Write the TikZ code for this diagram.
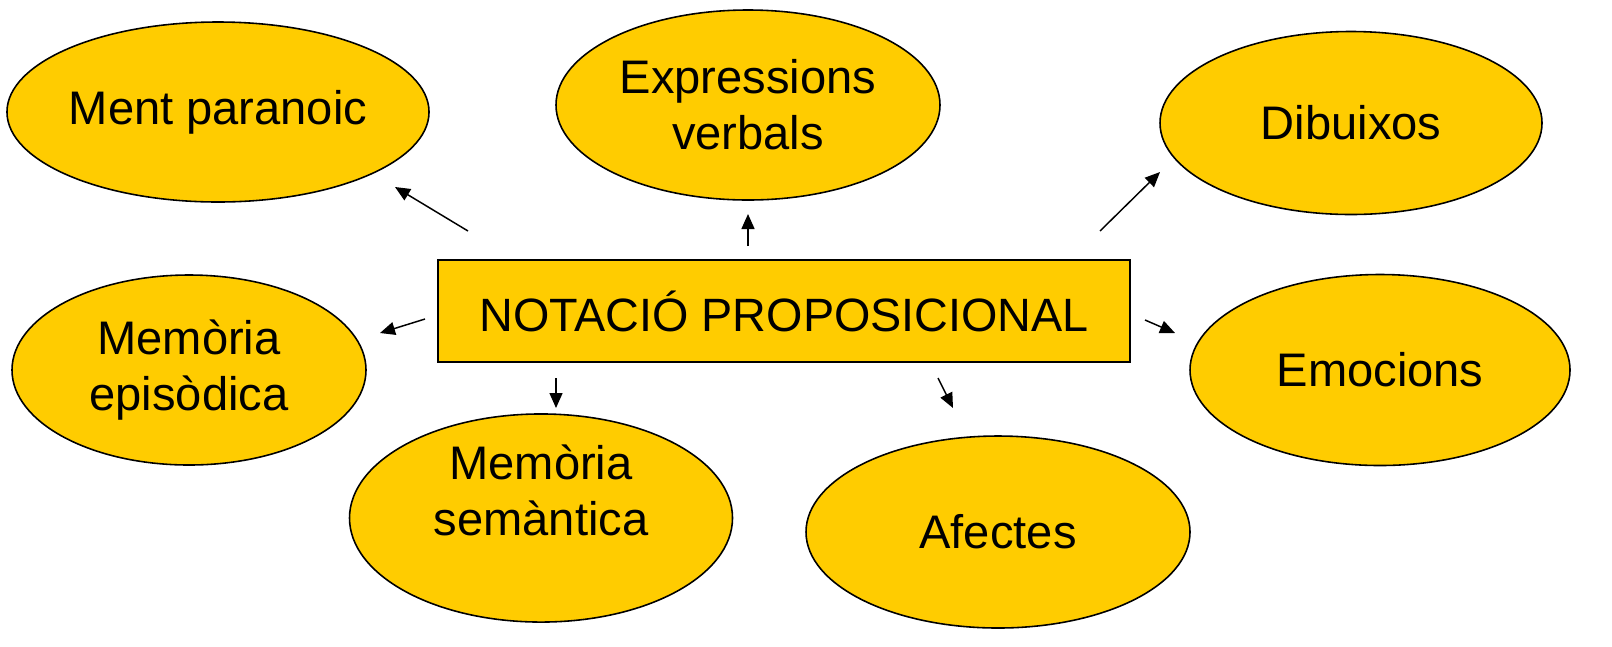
\documentclass[tikz,border=0pt]{standalone}
\usepackage{fontspec}
\setmainfont{Liberation Sans}
\usepackage{tikz}
\usetikzlibrary{shapes.geometric}
\usetikzlibrary{arrows.meta}
\definecolor{gold}{HTML}{FFCC00}

\begin{document}
\begin{tikzpicture}[every text node part/.style={align=center},
    concept/.style={ellipse, draw, line width=0.45pt, fill=gold, inner sep=0pt, font=\fontsize{13.4}{16}\selectfont},
    topic/.style={rectangle, draw, line width=0.6pt, fill=gold, inner sep=0pt, font=\fontsize{13.3}{16}\selectfont},
    arrow/.style={-{Triangle[length=0.15cm, width=0.13cm]}, line width=0.42pt}]
    \useasboundingbox (0, 0) rectangle (16.12, -6.46);
    \node (box) [topic, minimum width=6.92cm, minimum height=1.02cm] at (7.84, -3.11) {NOTACIÓ PROPOSICIONAL};
    \node (ment) [concept, minimum width=3.83cm, minimum height=1.80cm] at (2.18, -1.12) {Ment paranoic};
    \node (expr) [concept, minimum width=3.84cm, minimum height=1.90cm] at (7.48, -1.05) {Expressions\\verbals};
    \node (dib) [concept, minimum width=3.82cm, minimum height=1.83cm] at (13.51, -1.23) {Dibuixos};
    \node (epi) [concept, minimum width=3.54cm, minimum height=1.90cm] at (1.89, -3.70) {Memòria\\episòdica};
    \node (emo) [concept, minimum width=3.80cm, minimum height=1.91cm] at (13.80, -3.70) {Emocions};
    \node (sem) [concept, minimum width=3.83cm, minimum height=1.87cm] at (5.41, -5.18) {Memòria\\semàntica\\\mbox{}};
    \node (afe) [concept, minimum width=3.84cm, minimum height=1.92cm] at (9.98, -5.32) {Afectes};
    \coordinate (ment-s) at (4.68, -2.31);
    \coordinate (ment-e) at (3.95, -1.87);
    \coordinate (expr-s) at (7.48, -2.46);
    \coordinate (expr-e) at (7.48, -2.14);
    \coordinate (dib-s) at (11.00, -2.31);
    \coordinate (dib-e) at (11.60, -1.72);
    \coordinate (epi-s) at (4.25, -3.19);
    \coordinate (epi-e) at (3.80, -3.33);
    \coordinate (emo-s) at (11.45, -3.20);
    \coordinate (emo-e) at (11.75, -3.33);
    \coordinate (sem-s) at (5.56, -3.78);
    \coordinate (sem-e) at (5.56, -4.08);
    \coordinate (afe-s) at (9.38, -3.78);
    \coordinate (afe-e) at (9.53, -4.08);
    \foreach \n in {ment, expr, dib, epi, emo, sem, afe}
    \draw[arrow] (\n-s) -- (\n-e);
  \end{tikzpicture}
\end{document}
